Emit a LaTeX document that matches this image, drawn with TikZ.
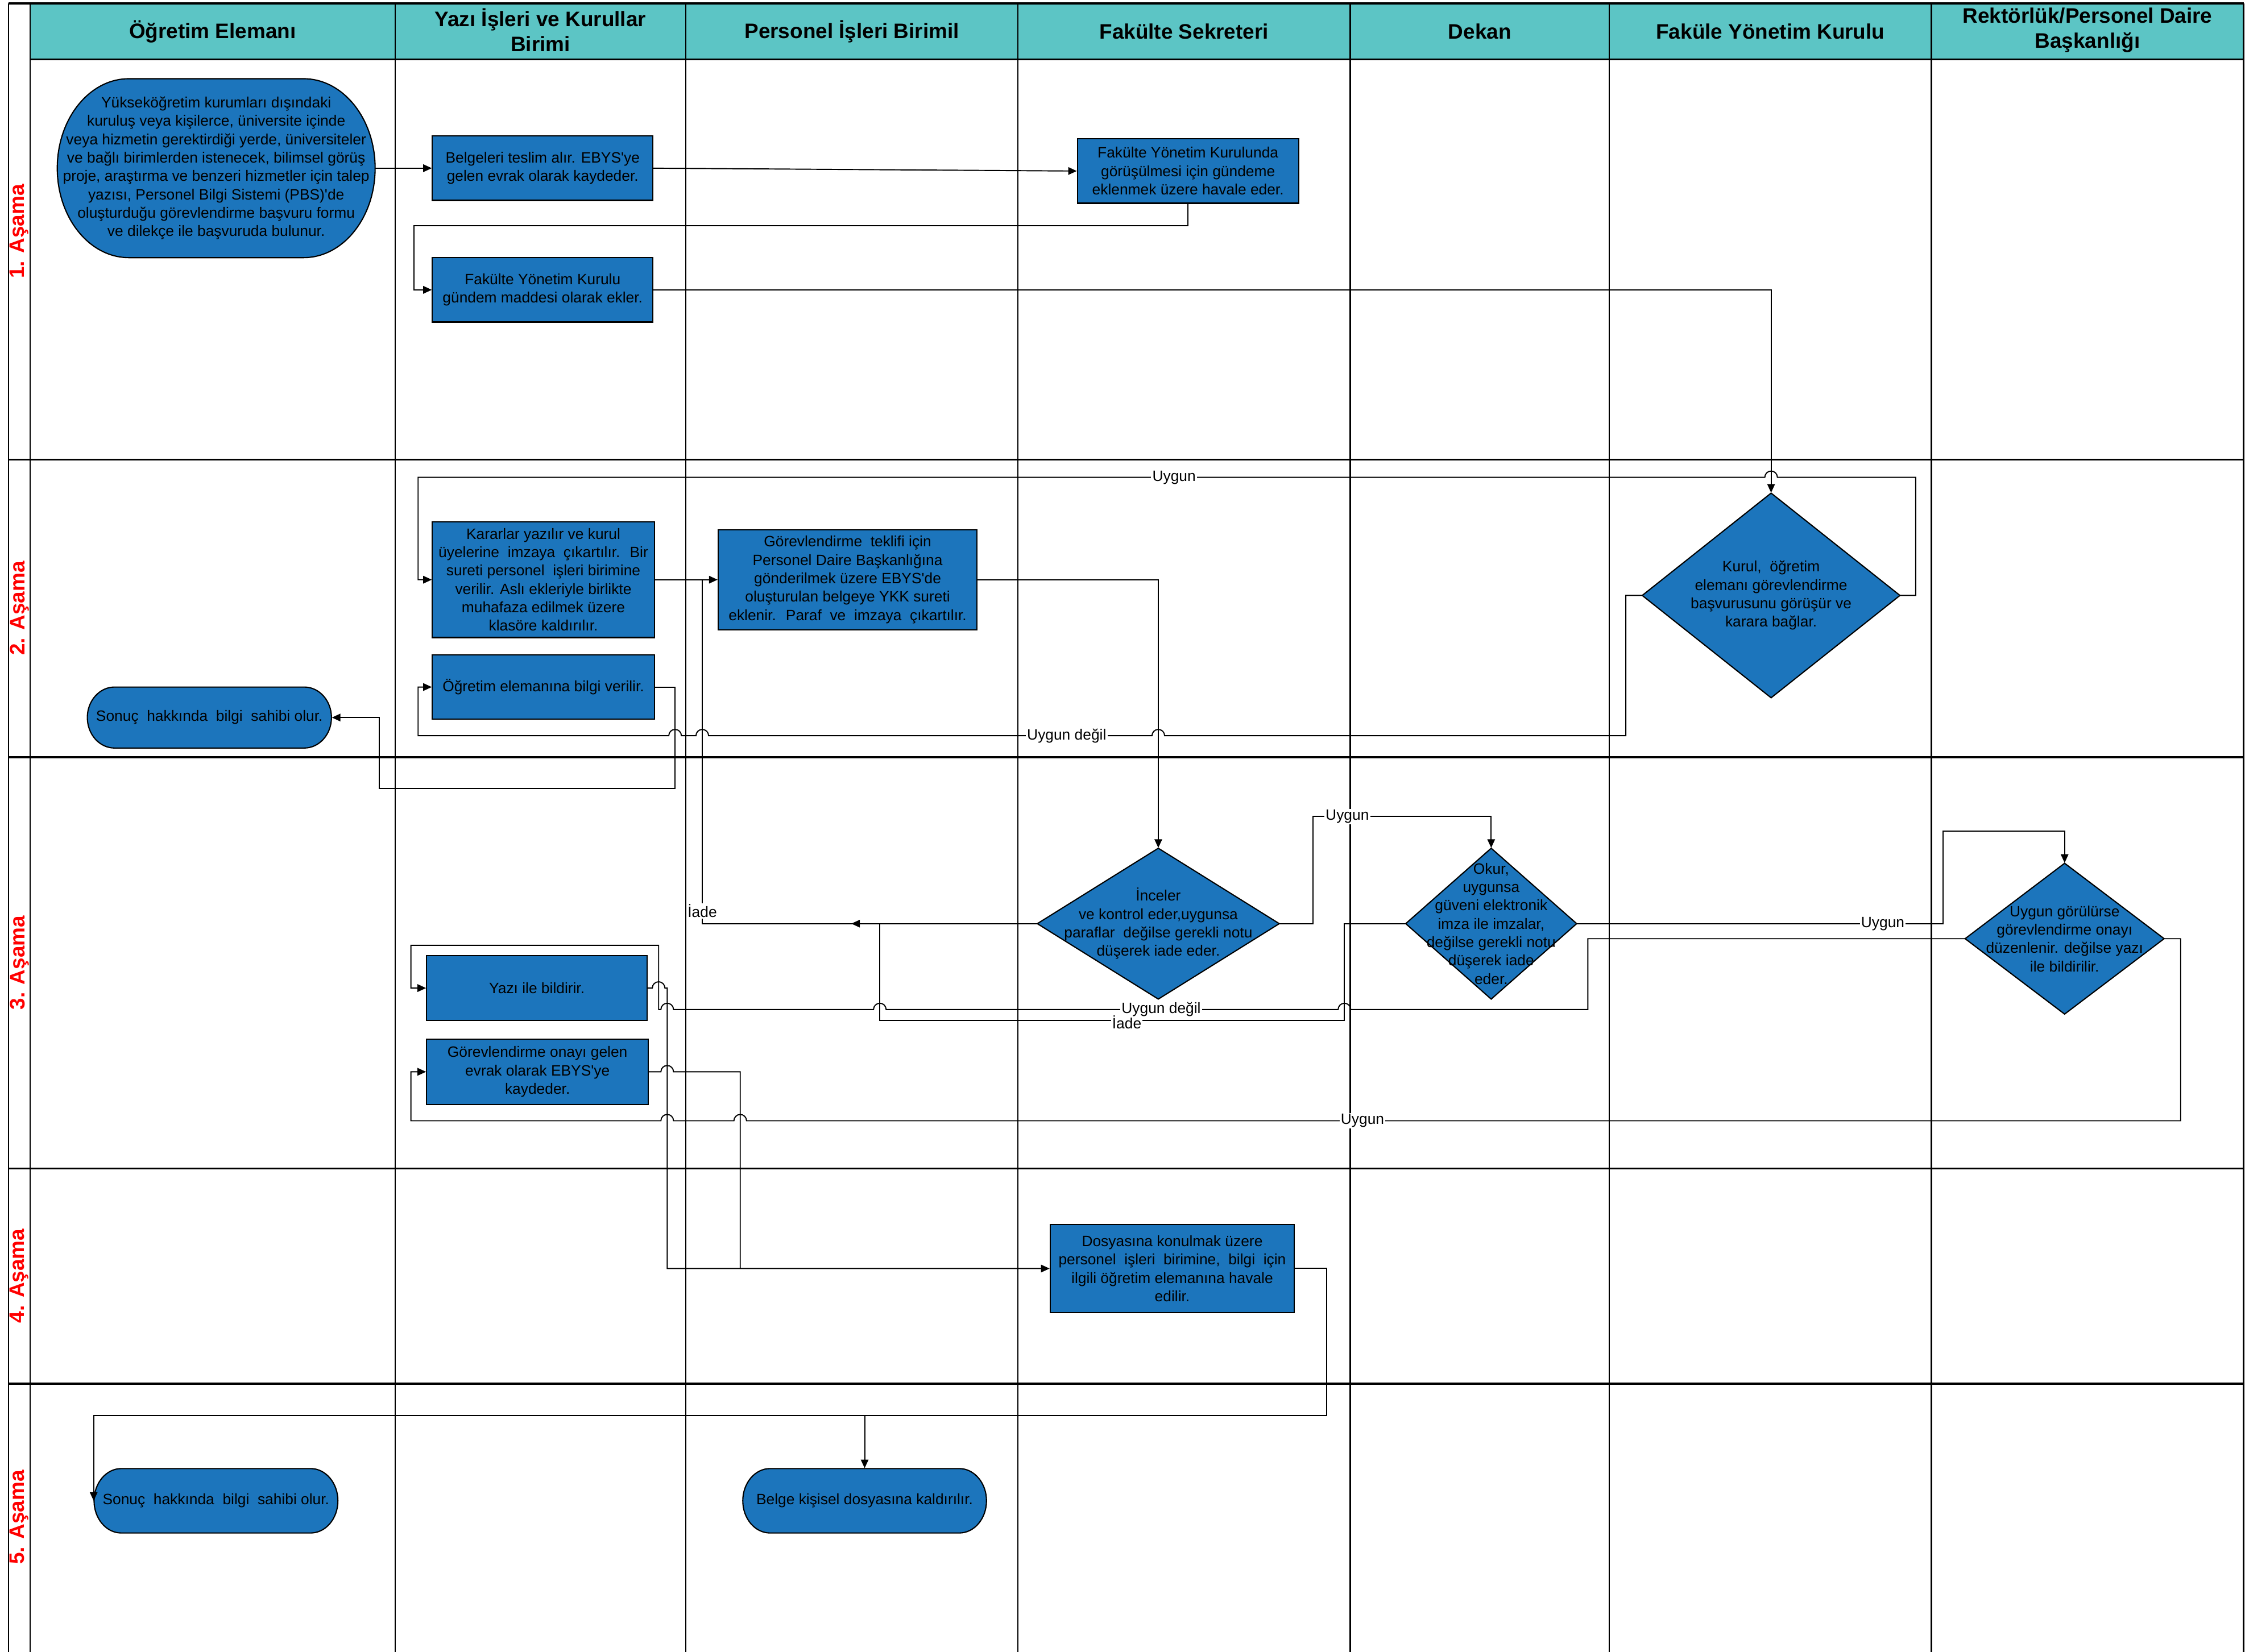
\documentclass[tikz,border=0pt]{standalone}
\usepackage{fontspec}
\setmainfont{Liberation Sans}
\usetikzlibrary{arrows.meta}
\definecolor{procblue}{RGB}{28,117,188}
\definecolor{headteal}{RGB}{92,197,197}
% one drawing unit
\def\pxu{0.2518mm}
% radius of the line jumps
\def\hr{1.108mm}

% rectangle process box given by its corners
\newcommand\BoxNode[6]{%
  \node[procbox, minimum width={(#4-#2)*\pxu}, minimum height={(#5-#3)*\pxu}]
    (#1) at ({(#2+#4)/2},{(#3+#5)/2}) {#6};}
% decision diamond: centre, half width, half height
\newcommand\DiaNode[6]{%
  \filldraw[shapeline] (#2,{#3-#5}) -- ({#2+#4},#3) -- (#2,{#3+#5}) -- ({#2-#4},#3) -- cycle;
  \node[shapetext, minimum width={2*#4*\pxu}, minimum height={2*#5*\pxu}] (#1) at (#2,#3) {#6};}
% terminator with elliptic ends
\newcommand\StadNode[7]{%
  \filldraw[shapeline] ({#2+#6},#3) -- ({#4-#6},#3)
    arc[start angle=90, end angle=-90, x radius={#6*\pxu}, y radius={(#5-#3)/2*\pxu}]
    -- ({#2+#6},#5)
    arc[start angle=270, end angle=90, x radius={#6*\pxu}, y radius={(#5-#3)/2*\pxu}]
    -- cycle;
  \node[shapetext, minimum width={(#4-#2)*\pxu}, minimum height={(#5-#3)*\pxu}]
    (#1) at ({(#2+#4)/2},{(#3+#5)/2}) {#7};}

\begin{document}
\begin{tikzpicture}[x=0.2518mm, y=-0.2518mm,
  bodytxt/.style={font=\fontsize{7.5}{9.2}\selectfont},
  procbox/.style={draw=black, line width=0.6pt, fill=procblue, inner sep=0pt, align=center, bodytxt},
  shapeline/.style={draw=black, line width=0.6pt, fill=procblue},
  shapetext/.style={inner sep=0pt, align=center, bodytxt},
  conn/.style={line width=0.55pt, -{Triangle[length=4.3pt,width=3.8pt]}},
  plainline/.style={line width=0.55pt},
  lbl/.style={fill=white, inner sep=0.6pt, bodytxt},
  laneline/.style={line width=0.7pt},
  rowline/.style={line width=0.9pt},
  headtxt/.style={align=center, font=\fontsize{10.5}{12.4}\selectfont\bfseries},
  phasetxt/.style={rotate=90, text=red, font=\fontsize{10.5}{12}\selectfont\bfseries},
]
\useasboundingbox (0,0) rectangle (1568,1154);

% ---- swimlane grid ----
\fill[headteal] (21,2.4) rectangle (1567,41.5);
\draw[rowline] (6,2.4) -- (1567,2.4);
\draw[rowline] (21,41.5) -- (1567,41.5);
\foreach \yy in {321,529,816.4,966.7} \draw[rowline] (6,\yy) -- (1567,\yy);
\foreach \xx in {6,21,276,479,711,943,1124,1349,1567} \draw[laneline] (\xx,2.4) -- (\xx,1154);

% ---- column headers ----
\node[headtxt] (h1) at (148.5,22) {Öğretim Elemanı};
\node[headtxt] (h2) at (377.5,21) {Yazı İşleri ve Kurullar\\Birimi};
\node[headtxt] (h3) at (595,22) {Personel İşleri Birimil};
\node[headtxt] (h4) at (827,22) {Fakülte Sekreteri};
\node[headtxt] (h5) at (1033.5,22) {Dekan};
\node[headtxt] (h6) at (1236.5,22) {Faküle Yönetim Kurulu};
\node[headtxt] (h7) at (1458,21) {Rektörlük/Personel Daire\\Başkanlığı};

% ---- phase labels ----
\node[phasetxt] (p1) at (13.5,161.7) {1. Aşama};
\node[phasetxt] (p2) at (13.5,425) {2. Aşama};
\node[phasetxt] (p3) at (13.5,672.7) {3. Aşama};
\node[phasetxt] (p4) at (13.5,891.5) {4. Aşama};
\node[phasetxt] (p5) at (13.5,1060) {5. Aşama};

% ---- phase 1 ----
\StadNode{E0}{40}{55}{262}{180}{50}{Yükseköğretim kurumları dışındaki\\kuruluş veya kişilerce, üniversite içinde\\veya hizmetin gerektirdiği yerde, üniversiteler\\ve bağlı birimlerden istenecek, bilimsel görüş\\proje, araştırma ve benzeri hizmetler için talep\\yazısı, Personel Bilgi Sistemi (PBS)\textquotesingle de\\oluşturduğu görevlendirme başvuru formu\\ve dilekçe ile başvuruda bulunur.}
\BoxNode{B1}{302}{95}{456}{140}{Belgeleri teslim alır. EBYS\textquotesingle ye\\gelen evrak olarak kaydeder.}
\BoxNode{B2}{752.5}{97}{907}{142}{Fakülte Yönetim Kurulunda\\görüşülmesi için gündeme\\eklenmek üzere havale eder.}
\BoxNode{B3}{302}{180}{456}{225}{Fakülte Yönetim Kurulu\\gündem maddesi olarak ekler.}

% ---- phase 2 ----
\DiaNode{D1}{1237}{416}{90}{71.5}{Kurul,~ öğretim\\elemanı görevlendirme\\başvurusunu görüşür ve\\karara bağlar.}
\BoxNode{K}{302}{364.6}{457}{445.4}{Kararlar yazılır ve kurul\\üyelerine~ imzaya~ çıkartılır.~ Bir\\sureti personel~ işleri birimine\\verilir. Aslı ekleriyle birlikte\\muhafaza edilmek üzere\\klasöre kaldırılır.}
\BoxNode{OE}{302}{457.5}{457}{502.5}{Öğretim elemanına bilgi verilir.}
\BoxNode{GT}{501.6}{370}{682.4}{440}{Görevlendirme~ teklifi için\\Personel Daire Başkanlığına\\gönderilmek üzere EBYS\textquotesingle de\\oluşturulan belgeye YKK sureti\\eklenir.~ Paraf~ ve~ imzaya~ çıkartılır.}
\StadNode{S2}{61}{480}{231.5}{522.6}{19}{Sonuç~ hakkında~ bilgi~ sahibi olur.}

% ---- phase 3 ----
\DiaNode{D2}{809}{645.3}{84.5}{52.7}{İnceler\\ve kontrol eder,uygunsa\\paraflar~ değilse gerekli notu\\düşerek iade eder.}
\DiaNode{D3}{1041.5}{645.3}{59.7}{52.7}{Okur,\\uygunsa\\güveni elektronik\\imza ile imzalar,\\değilse gerekli notu\\düşerek iade\\eder.}
\DiaNode{D4}{1442}{655.8}{69.5}{52.7}{Uygun görülürse\\görevlendirme onayı\\düzenlenir. değilse yazı\\ile bildirilir.}
\BoxNode{Y}{298}{667.6}{452}{713}{Yazı ile bildirir.}
\BoxNode{GO}{298}{726}{452.8}{771.6}{Görevlendirme onayı gelen\\evrak olarak EBYS\textquotesingle ye\\kaydeder.}

% ---- phase 4 ----
\BoxNode{DS}{733.5}{855.5}{904}{917}{Dosyasına konulmak üzere\\personel~ işleri~ birimine,~ bilgi~ için\\ilgili öğretim elemanına havale\\edilir.}

% ---- phase 5 ----
\StadNode{S5}{65.7}{1026}{236}{1071}{19}{Sonuç~ hakkında~ bilgi~ sahibi olur.}
\StadNode{BK}{518.8}{1026}{689}{1071}{19}{Belge kişisel dosyasına kaldırılır.}

% ---- junction points ----
\coordinate (jK) at (490.5,405);
\coordinate (jI) at (614.5,645.3);
\coordinate (jD) at (517,886.25);
\coordinate (jB) at (603.9,989);

% ---- connectors ----
\draw[conn] (E0.east) -- (B1.west);
\draw[conn] (B1.east) -- (B2.west);
\draw[conn] (B2.south) -- (829.75,157.5) -- (289,157.5) |- (B3.west);
\draw[conn] (B3.east) -| (D1.north);
\draw[conn] (D1.east) -- (1338,416) -- (1338,333.5) -- (1241.4,333.5)
  arc[start angle=0,end angle=180,radius=\hr] -- (292,333.5) |- (K.west);
\draw[conn] (D1.west) -- (1135.5,416) -- (1135.5,514) -- (813.4,514)
  arc[start angle=0,end angle=180,radius=\hr] -- (494.9,514)
  arc[start angle=0,end angle=180,radius=\hr] -- (475.9,514)
  arc[start angle=0,end angle=180,radius=\hr] -- (292,514) |- (OE.west);
\draw[conn] (K.east) -- (GT.west);
\draw[conn] (GT.east) -| (D2.north);
\draw[conn] (OE.east) -| (471.5,550.8) -- (265,550.8) |- (S2.east);
\draw[conn] (D2.east) -- (917,645.3) -- (917,570.5) -| (D3.north);
\draw[plainline] (D2.west) -- (490.5,645.3) -- (jK);
\draw[conn] (D2.west) -- (594.6,645.3);
\draw[plainline] (D3.west) -- (939,645.3) -- (939,713) -- (614.5,713) -- (jI);
\draw[conn] (D3.east) -- (1357,645.3) -- (1357,580.5) -| (D4.north);
\draw[conn] (D4.west) -- (1109,655.8) -- (1109,705.3) -- (943.4,705.3)
  arc[start angle=0,end angle=180,radius=\hr] -- (618.9,705.3)
  arc[start angle=0,end angle=180,radius=\hr] -- (470.4,705.3)
  arc[start angle=0,end angle=180,radius=\hr] -- (460,705.3)
  -- (460,660.4) -- (287,660.4) |- (Y.west);
\draw[conn] (Y.east) -- (455.6,690.3) arc[start angle=180,end angle=0,radius=\hr]
  -- (466,690.3) -- (466,886.25) -- (DS.west);
\draw[plainline] (GO.east) -- (461.6,748.8) arc[start angle=180,end angle=0,radius=\hr]
  -- (517,748.8) -- (jD);
\draw[conn] (D4.east) -- (1523,655.8) -- (1523,783) -- (521.4,783)
  arc[start angle=0,end angle=180,radius=\hr] -- (470.4,783)
  arc[start angle=0,end angle=180,radius=\hr] -- (287,783) |- (GO.west);
\draw[conn] (DS.east) -- (926.6,886.25) -- (926.6,989) -| (BK.north);
\draw[conn] (jB) -| (S5.west);

% ---- connector labels ----
\node[lbl] (t1) at (820,333.5) {Uygun};
\node[lbl] (t2) at (745,514) {Uygun değil};
\node[lbl] (t3) at (490.5,636.5) {İade};
\node[lbl] (t4) at (941,570.5) {Uygun};
\node[lbl] (t5) at (1315,645.3) {Uygun};
\node[lbl] (t7) at (787,714) {İade};
\node[lbl] (t6) at (811,705.3) {Uygun değil};
\node[lbl] (t8) at (951.6,783) {Uygun};
\end{tikzpicture}
\end{document}
